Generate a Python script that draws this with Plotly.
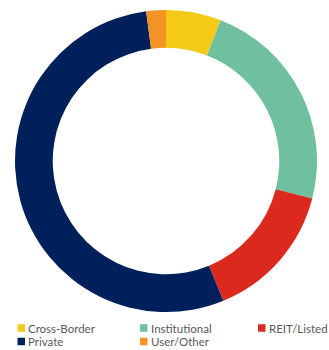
import plotly.graph_objects as go

labels = ["Cross-Border", "Institutional", "REIT/Listed", "Private", "User/Other"]
values = [5.9, 23.1, 14.8, 54.1, 2.1]
colors = ["#F4CA16", "#70BF9F", "#DB291D", "#00205B", "#F39325"]

W, H = 329, 350
fig = go.Figure(go.Pie(
    labels=labels, values=values, sort=False, direction="clockwise", rotation=0,
    hole=0.75, marker=dict(colors=colors, line=dict(width=0)),
    textinfo="none", hoverinfo="label+percent",
    domain=dict(x=[15 / W, 317 / W], y=[1 - 312 / H, 1 - 10 / H]),
))

# manual legend (layout only), built from labels/colors
col_x = [17.5, 140, 258]
row_y = [328, 341.5]
sq = 7.5
shapes, annots = [], []
for i, (lab, c) in enumerate(zip(labels, colors)):
    x0 = col_x[i % 3]
    yc = row_y[i // 3]
    shapes.append(dict(type="rect", xref="paper", yref="paper",
                       x0=x0 / W, x1=(x0 + sq) / W,
                       y0=1 - (yc + sq / 2) / H, y1=1 - (yc - sq / 2) / H,
                       fillcolor=c, line=dict(width=0)))
    annots.append(dict(text=lab, xref="paper", yref="paper",
                       x=(x0 + sq + 2) / W, y=1 - yc / H,
                       xanchor="left", yanchor="middle", showarrow=False,
                       borderpad=0,
                       font=dict(family="Lato", size=11.5, color="#595959")))

fig.update_layout(
    width=W, height=H, margin=dict(l=0, r=0, t=0, b=0),
    paper_bgcolor="white", plot_bgcolor="white",
    showlegend=False, shapes=shapes, annotations=annots,
)
fig.write_html("out.html")
